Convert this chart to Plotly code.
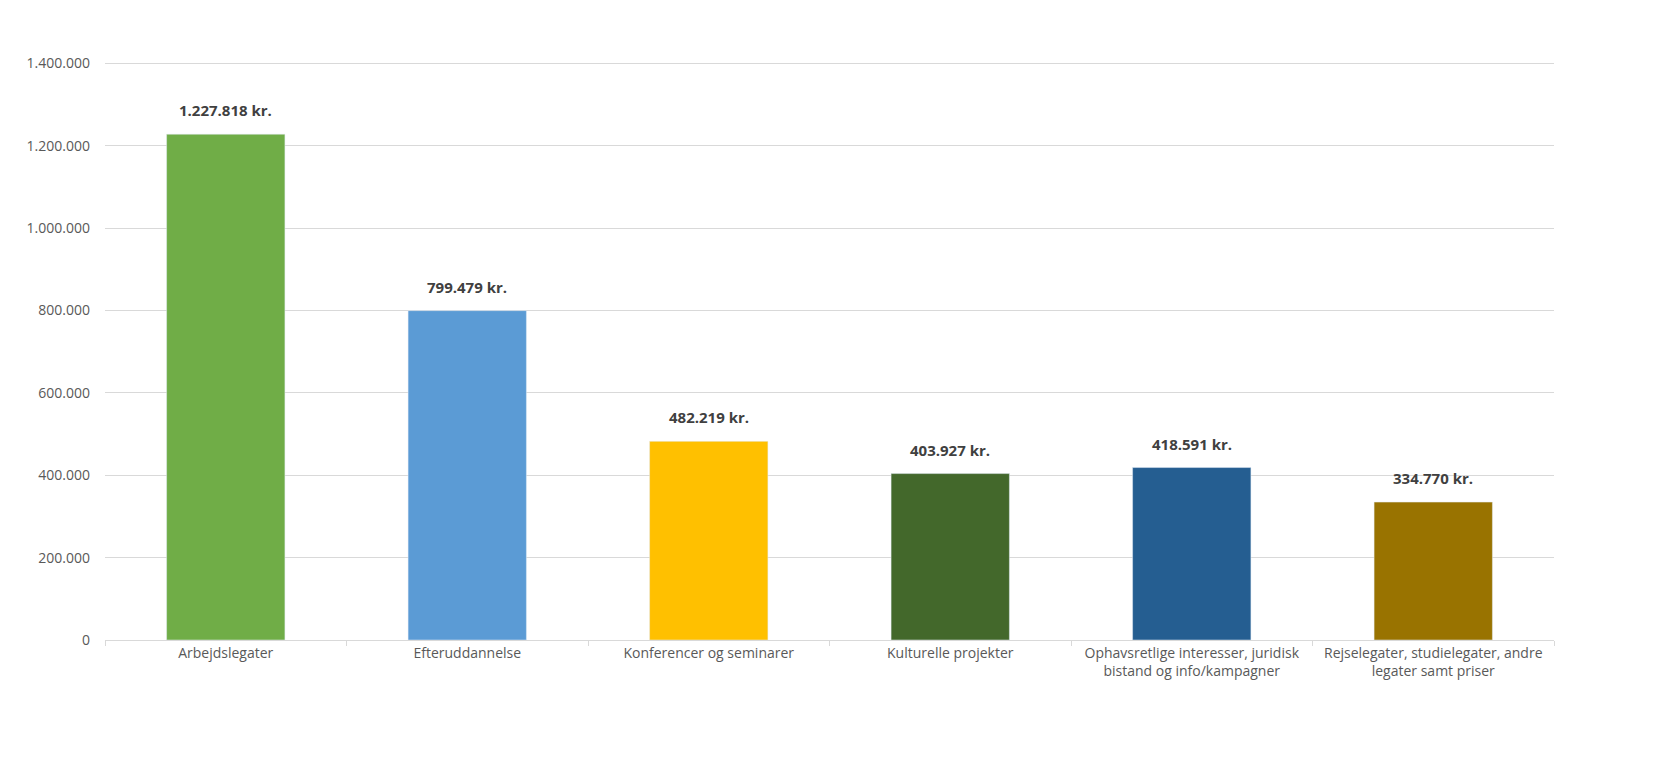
import plotly.graph_objects as go

categories = ["Arbejdslegater", "Efteruddannelse", "Konferencer og seminarer", "Kulturelle projekter",
              "Ophavsretlige interesser, juridisk<br>bistand og info/kampagner",
              "Rejselegater, studielegater, andre<br>legater samt priser"]
values = [1227818, 799479, 482219, 403927, 418591, 334770]
labels = ["1.227.818 kr.", "799.479 kr.", "482.219 kr.", "403.927 kr.", "418.591 kr.", "334.770 kr."]
colors = ["#70ad47", "#5b9bd5", "#ffc000", "#43682b", "#255e91", "#997300"]
tickvals = [0, 200000, 400000, 600000, 800000, 1000000, 1200000, 1400000]
ticktext = ["0", "200.000", "400.000", "600.000", "800.000", "1.000.000", "1.200.000", "1.400.000"]

fig = go.Figure(go.Bar(x=categories, y=values, marker_color=colors, width=0.49))
for c, v, t in zip(categories, values, labels):
    fig.add_annotation(x=c, y=v, text="<b>" + t + "</b>", showarrow=False, yanchor="bottom",
                       yshift=12, font=dict(size=15, color="#404040", family="Open Sans"))
fig.update_layout(
    width=1654, height=760, plot_bgcolor="white", paper_bgcolor="white",
    margin=dict(l=97, r=108, t=54, b=128), showlegend=False,
    font=dict(family="Open Sans", size=14, color="#595959"),
    yaxis=dict(range=[0, 1403000], tickvals=tickvals, ticktext=ticktext, showgrid=True,
               gridcolor="#d9d9d9", zeroline=False, ticks="", ticklabelstandoff=14),
    xaxis=dict(showline=True, linecolor="#d9d9d9", ticks="outside", tickson="boundaries",
               tickcolor="#d9d9d9", ticklen=5),
)
fig.write_html("out.html")
